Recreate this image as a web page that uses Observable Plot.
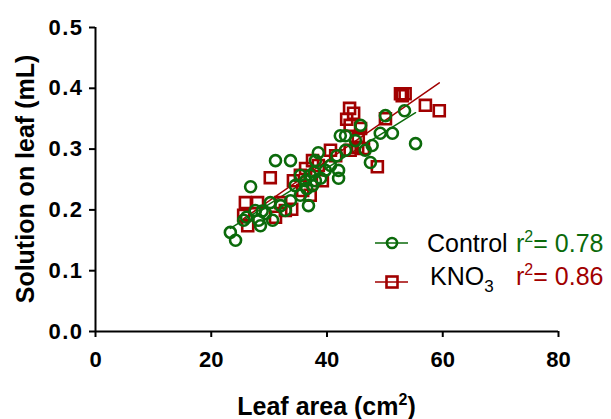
<!DOCTYPE html>
<html>
<head>
<meta charset="utf-8">
<script src="https://cdn.jsdelivr.net/npm/d3@7"></script>
<script src="https://cdn.jsdelivr.net/npm/@observablehq/plot@0.6"></script>
<style>
  html, body { margin: 0; padding: 0; background: #fff; }
  #chart svg { font-family: "Liberation Sans", Arial, sans-serif; }
  #chart [aria-label="x-axis tick"] path, #chart [aria-label="y-axis tick"] path { stroke-width: 2px; }
  #chart [aria-label="x-axis tick"], #chart [aria-label="y-axis tick"] { stroke-width: 2px; }
</style>
</head>
<body>
<div id="chart"></div>
<script>
// Control (green circles): leaf area (cm2), solution on leaf (mL)
const controlArea = [23.3, 24.2, 26.8, 25.6, 26.1, 27.6, 28.8, 28.2, 28.5, 29.4, 30.2, 31.1, 33.7, 30.6, 32.0, 32.8, 33.7, 34.5, 35.4, 36.3, 35.4, 36.8, 37.1, 38.0, 38.5, 38.0, 38.9, 39.7, 40.6, 37.5, 36.5, 37.8, 42.0, 42.0, 41.7, 43.2, 42.3, 43.2, 44.9, 45.8, 46.6, 47.5, 47.8, 49.2, 50.1, 51.3, 53.4, 55.3];
const controlSol  = [0.163, 0.150, 0.238, 0.183, 0.188, 0.199, 0.198, 0.183, 0.174, 0.194, 0.212, 0.281, 0.281, 0.183, 0.207, 0.199, 0.215, 0.240, 0.257, 0.248, 0.224, 0.207, 0.257, 0.281, 0.294, 0.248, 0.252, 0.265, 0.273, 0.240, 0.235, 0.262, 0.265, 0.252, 0.289, 0.298, 0.322, 0.322, 0.314, 0.339, 0.298, 0.278, 0.306, 0.326, 0.355, 0.326, 0.363, 0.309];
// KNO3 (red squares)
const kno3Area = [25.6, 26.3, 25.9, 28.0, 30.2, 31.1, 32.0, 32.8, 33.9, 34.2, 35.4, 36.3, 37.5, 38.5, 39.2, 40.6, 41.5, 43.4, 43.9, 44.6, 44.0, 45.8, 45.4, 45.3, 44.0, 46.3, 50.1, 48.7, 52.7, 53.5, 53.0, 57.0, 59.4, 35.8, 37.1];
const kno3Sol  = [0.191, 0.174, 0.212, 0.212, 0.253, 0.188, 0.212, 0.199, 0.201, 0.248, 0.257, 0.268, 0.281, 0.273, 0.248, 0.298, 0.289, 0.349, 0.367, 0.359, 0.339, 0.334, 0.319, 0.303, 0.298, 0.301, 0.350, 0.271, 0.391, 0.391, 0.388, 0.372, 0.363, 0.232, 0.224];

const groups = ["Control", "KNO3"];
const rSquared = ["0.78", "0.86"];
const colors = ["#0b6a0b", "#a10000"];
const xTicks = [0, 20, 40, 60, 80];
const yTicks = [0, 0.1, 0.2, 0.3, 0.4, 0.5];
const xLabel = "Leaf area (cm";
const yLabel = "Solution on leaf (mL)";

const control = controlArea.map((x, i) => ({x, y: controlSol[i], g: groups[0]}));
const kno3 = kno3Area.map((x, i) => ({x, y: kno3Sol[i], g: groups[1]}));

const W = 611, H = 419;
const plot = Plot.plot({
  width: W, height: H,
  marginLeft: 95, marginRight: 53, marginTop: 27, marginBottom: 88,
  style: {fontFamily: '"Liberation Sans", Arial, sans-serif', fontSize: "22px", fontWeight: "bold", color: "#000", background: "#fff", overflow: "visible"},
  x: {domain: [0, 80], ticks: xTicks, tickSize: 6, tickPadding: 14, label: null},
  y: {domain: [0, 0.5], ticks: yTicks, tickFormat: d3.format(".1f"), tickSize: 6, tickPadding: 6, label: null},
  marks: [
    Plot.ruleX([0], {stroke: "#000", strokeWidth: 2}),
    Plot.ruleY([0], {stroke: "#000", strokeWidth: 2}),
    Plot.linearRegressionY(kno3, {x: "x", y: "y", stroke: colors[1], strokeWidth: 1.5, ci: 0}),
    Plot.linearRegressionY(control, {x: "x", y: "y", stroke: colors[0], strokeWidth: 1.5, ci: 0}),
    Plot.dot(kno3, {x: "x", y: "y", symbol: "square", r: 6.2, stroke: colors[1], strokeWidth: 2.6, fill: "none"}),
    Plot.dot(control, {x: "x", y: "y", symbol: "circle", r: 5.5, stroke: colors[0], strokeWidth: 2.6, fill: "none"})
  ]
});
document.getElementById("chart").appendChild(plot);

const svg = d3.select(plot);
// style the library's tick labels
svg.selectAll("text").each(function () {
  const s = d3.select(this).attr("font-size", 22).style("font-size", "22px").style("font-weight", "bold").style("fill", "#000");
  const p = this.closest("g[aria-label]");
  if (p && (p.getAttribute("aria-label") || "").startsWith("y-axis")) s.style("letter-spacing", "1.5px");
});

const xs = plot.scale("x"), ys = plot.scale("y");
const fx0 = xs.apply(0), fx1 = xs.apply(80), fy0 = ys.apply(0), fy1 = ys.apply(0.5);

// Axis titles
const xt = svg.append("text").attr("x", (fx0 + fx1) / 2).attr("y", 415)
  .attr("text-anchor", "middle").attr("font-size", 25).attr("font-weight", "bold").attr("fill", "#000");
xt.append("tspan").text(xLabel);
xt.append("tspan").text("2").attr("font-size", 16).attr("dy", -10);
xt.append("tspan").text(")").attr("dy", 10);

svg.append("text").attr("transform", `translate(34,${(fy0 + fy1) / 2}) rotate(-90)`)
  .attr("text-anchor", "middle").attr("font-size", 25).attr("font-weight", "bold").attr("fill", "#000")
  .text(yLabel);

// Legend
const legendRows = [243, 282];
const baselines = [252, 285];
groups.forEach((g, i) => {
  const gy = legendRows[i];
  const lg = svg.append("g").attr("fill", "none").attr("stroke", colors[i]);
  lg.append("line").attr("x1", 375).attr("x2", 408).attr("y1", gy).attr("y2", gy).attr("stroke-width", 1.5);
  if (i === 0) lg.append("circle").attr("cx", 392).attr("cy", gy).attr("r", 5).attr("stroke-width", 2.6);
  else lg.append("rect").attr("x", 386.5).attr("y", gy - 5.5).attr("width", 11).attr("height", 11).attr("stroke-width", 2.6);
  const t = svg.append("text").attr("x", i === 0 ? 427 : 430).attr("y", baselines[i]).attr("text-anchor", "start")
    .attr("font-size", 25).attr("font-weight", "normal").attr("fill", "#000");
  if (i === 0) t.text(g);
  else { t.append("tspan").text("KNO"); t.append("tspan").text("3").attr("font-size", 17).attr("dy", 7); }
  const r = svg.append("text").attr("x", 516).attr("y", baselines[i]).attr("text-anchor", "start")
    .attr("font-size", 25).attr("font-weight", "normal").attr("fill", colors[i]);
  r.append("tspan").text("r");
  r.append("tspan").text("2").attr("font-size", 16).attr("dy", -10);
  r.append("tspan").text("= " + rSquared[i]).attr("dy", 10);
});
</script>
</body>
</html>
